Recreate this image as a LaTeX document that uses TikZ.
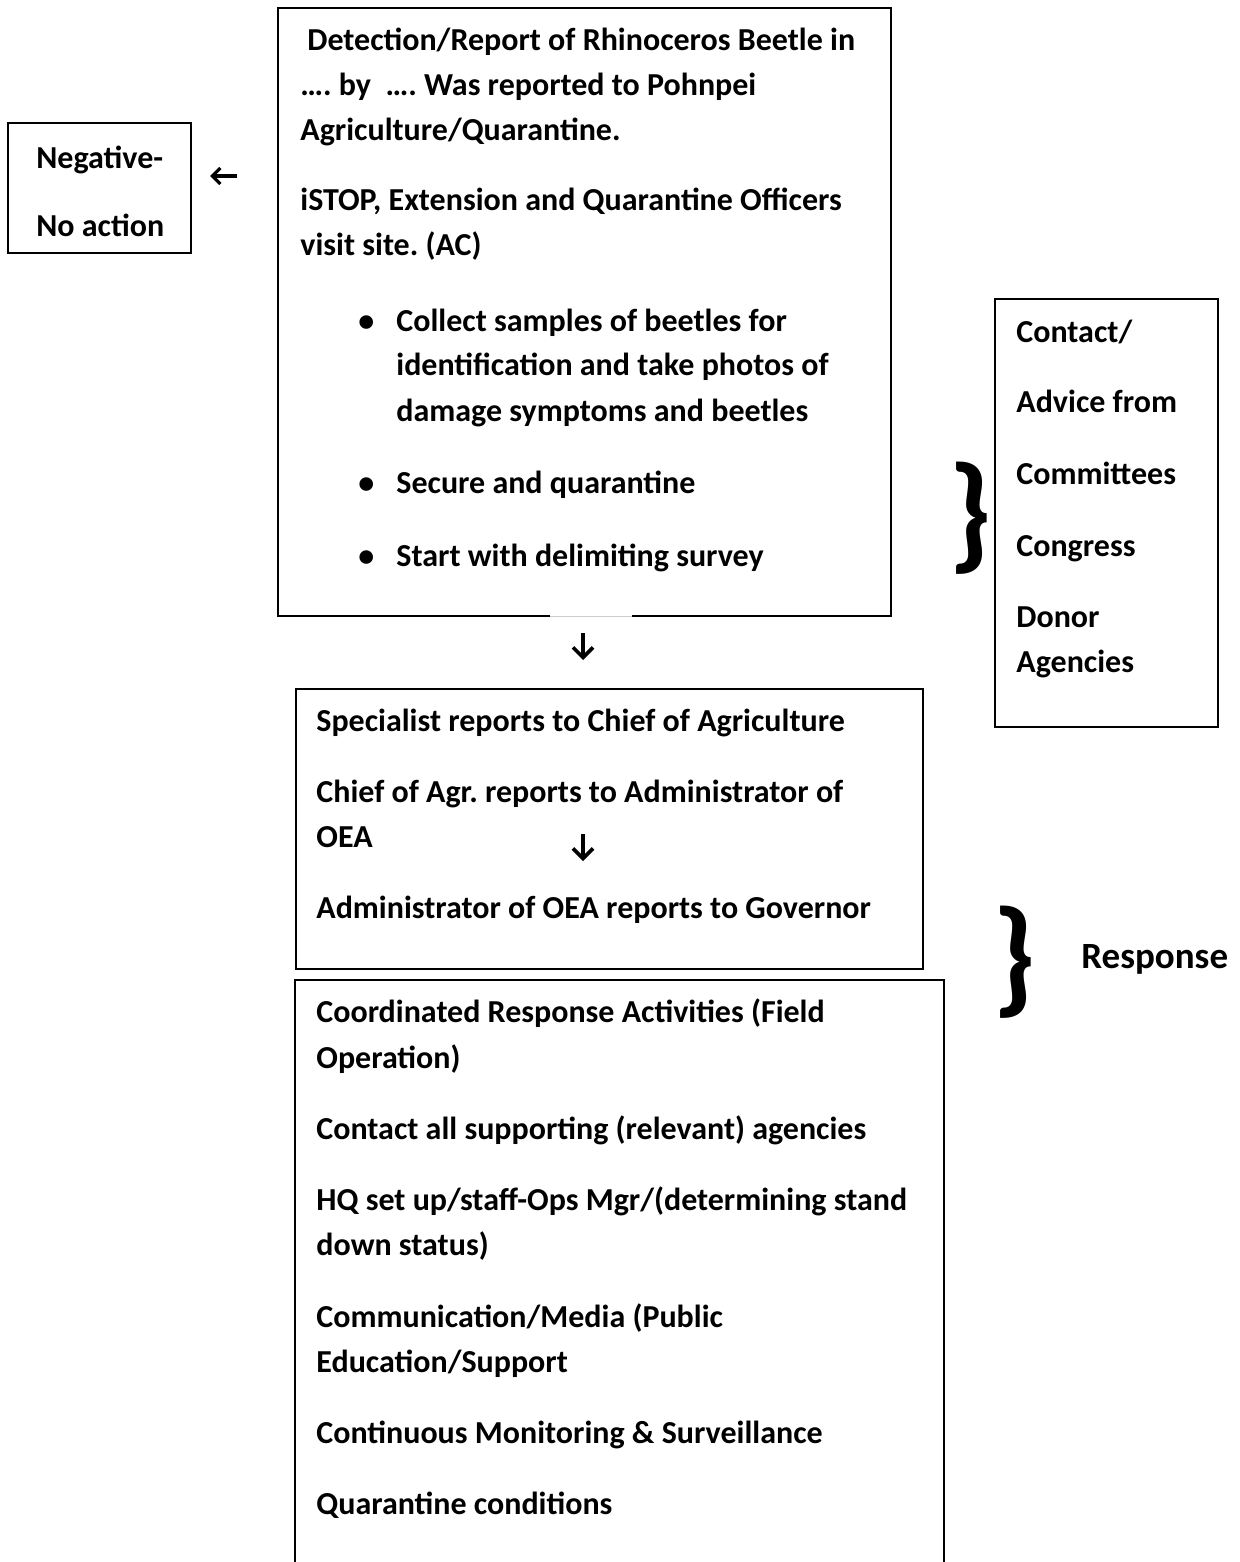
\documentclass[tikz,border=0pt]{standalone}
\usepackage{fontspec}
\setmainfont{Carlito}
\usetikzlibrary{arrows.meta}
\frenchspacing
\begin{document}
\begin{tikzpicture}[x=0.5pt,y=-0.5pt,
  txt/.style={anchor=base west, inner sep=0pt, font=\bfseries\fontsize{16pt}{19pt}\selectfont},
  box/.style={draw, line width=0.9pt, inner sep=0pt, anchor=north west},
  arr/.style={-{Straight Barb[length=5pt,width=10pt,line width=1.8pt]}, line width=2pt},
  brace/.style={inner sep=0pt, font=\bfseries\fontsize{64pt}{64pt}\selectfont}]
\useasboundingbox (0,0) rectangle (1240,1562);
% boxes
\node[box, minimum width=91.5pt, minimum height=65pt] (neg) at (7,122) {};
\node[box, minimum width=111.5pt, minimum height=214pt] (adv) at (994,298) {};
\node[box, minimum width=313.5pt, minimum height=140pt] (mid) at (295,688) {};
% top box with gap in bottom border
\coordinate (tl) at (278,8);
\coordinate (gapl) at (550,616);
\coordinate (gapr) at (632,616);
\draw[line width=0.9pt] (gapl) -| (tl) -| (891,616) -- (gapr);
\draw[line width=0.5pt, black!20] (gapl) -- (gapr);
% bottom box, open at the bottom
\draw[line width=0.9pt] (295,1562) |- (944,980) -- (944,1562);
% text: negative
\node[txt] (n1) at (36,169) {Negative-};
\node[txt] (n2) at (36,236) {No action};
% top box text
\node[txt] (t1) at (307,51) {Detection/Report of Rhinoceros Beetle in};
\node[txt] (t2) at (300,96) {…. by\ \ …. Was reported to Pohnpei};
\node[txt] (t3) at (300,141) {Agriculture/Quarantine.};
\node[txt] (t4) at (300,211) {iSTOP, Extension and Quarantine Officers};
\node[txt] (t5) at (300,256) {visit site. (AC)};
\node[txt] (b1) at (358,331) {•};
\node[txt] (t6) at (396,331) {Collect samples of beetles for};
\node[txt] (t7) at (396,375) {identification and take photos of};
\node[txt] (t8) at (396,421) {damage symptoms and beetles};
\node[txt] (b2) at (358,493) {•};
\node[txt] (t9) at (396,493) {Secure and quarantine};
\node[txt] (b3) at (358,566) {•};
\node[txt] (t10) at (396,566) {Start with delimiting survey};
% right box text
\node[txt] (a1) at (1016,342) {Contact/};
\node[txt] (a2) at (1016,412) {Advice from};
\node[txt] (a3) at (1016,484) {Committees};
\node[txt] (a4) at (1016,556) {Congress};
\node[txt] (a5) at (1016,627) {Donor};
\node[txt] (a6) at (1016,672) {Agencies};
% middle box text
\node[txt] (m1) at (316,731) {Specialist reports to Chief of Agriculture};
\node[txt] (m2) at (316,802) {Chief of Agr. reports to Administrator of};
\node[txt] (m3) at (316,847) {OEA};
\node[txt] (m4) at (316,918) {Administrator of OEA reports to Governor};
% bottom box text
\node[txt] (r1) at (316,1022) {Coordinated Response Activities (Field};
\node[txt] (r2) at (316,1068) {Operation)};
\node[txt] (r3) at (316,1139) {Contact all supporting (relevant) agencies};
\node[txt] (r4) at (316,1210) {HQ set up/staff-Ops Mgr/(determining stand};
\node[txt] (r5) at (316,1255) {down status)};
\node[txt] (r6) at (316,1327) {Communication/Media (Public};
\node[txt] (r7) at (316,1372) {Education/Support};
\node[txt] (r8) at (316,1443) {Continuous Monitoring \& Surveillance};
\node[txt] (r9) at (316,1514) {Quarantine conditions};
% response label
\node[txt, font=\bfseries\fontsize{18.5pt}{22pt}\selectfont] (resp) at (1081,968) {Response};
% braces
\node[brace] (br1) at (970,518) {\}};
\node[brace] (br2) at (1014,962) {\}};
% arrows
\coordinate (la1) at (237,176);
\coordinate (la2) at (210,176);
\draw[-{Straight Barb[length=4pt,width=8pt,line width=1.6pt]}, line width=2pt] (la1) -- (la2);
\coordinate (da1) at (583,633);
\coordinate (da2) at (583,660);
\draw[arr] (da1) -- (da2);
\coordinate (db1) at (583,834);
\coordinate (db2) at (583,861);
\draw[arr] (db1) -- (db2);
\end{tikzpicture}
\end{document}
